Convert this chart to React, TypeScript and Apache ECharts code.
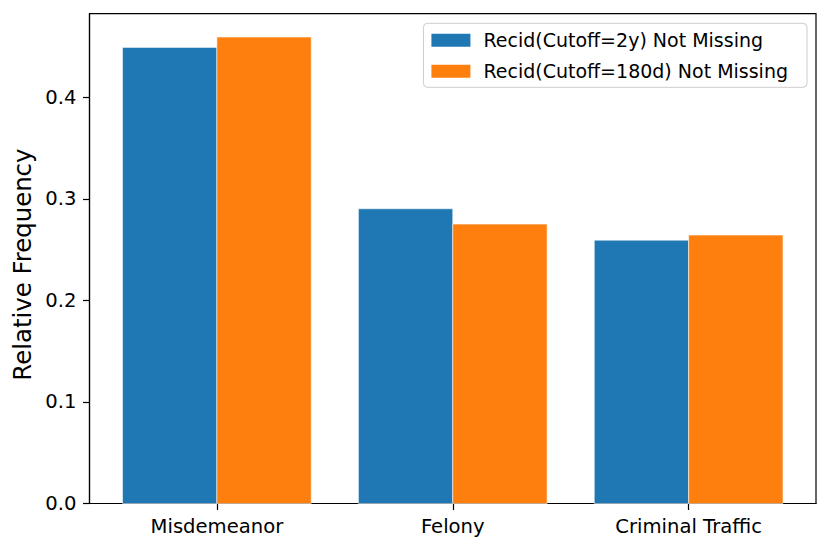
import React, { useEffect, useRef } from "react";
import * as echarts from "echarts";

const categories = ["Misdemeanor", "Felony", "Criminal Traffic"];
const series2y = [0.4493, 0.2903, 0.2594];
const series180d = [0.4595, 0.2752, 0.2644];
const seriesNames = ["Recid(Cutoff=2y) Not Missing", "Recid(Cutoff=180d) Not Missing"];
const yTicks = [0, 0.1, 0.2, 0.3, 0.4];
const colors = ["#1f77b4", "#ff7f0e"];

const FONT = "DejaVu Sans";
const BAR_W = 0.4;

function makeSeries(name: string, values: number[], offset: number, color: string) {
  return {
    name,
    type: "custom",
    itemStyle: { color },
    encode: { x: 0, y: 1 },
    data: values.map((v, i) => [i + offset, v]),
    renderItem: (params: any, api: any) => {
      const x = api.value(0);
      const v = api.value(1);
      const p0 = api.coord([x - BAR_W / 2, v]);
      const p1 = api.coord([x + BAR_W / 2, 0]);
      return {
        type: "rect",
        shape: { x: p0[0], y: p0[1], width: p1[0] - p0[0], height: p1[1] - p0[1] },
        style: { fill: color, stroke: "rgba(255,255,255,0.55)", lineWidth: 1 },
      };
    },
  };
}

export default function App() {
  const ref = useRef<HTMLDivElement>(null);
  useEffect(() => {
    if (!ref.current) return;
    const chart = echarts.init(ref.current, undefined, { renderer: "svg" });
    const n = categories.length;
    const dataMin = -0.4;
    const dataMax = n - 1 + 0.4;
    const margin = (dataMax - dataMin) * 0.05;
    const yMax = Math.max(...series2y, ...series180d) * 1.05;
    chart.setOption({
      animation: false,
      backgroundColor: "#ffffff",
      textStyle: { fontFamily: FONT },
      grid: {
        left: 89.5,
        right: 15,
        top: 13.7,
        bottom: 47.5,
        show: true,
        borderColor: "#000",
        borderWidth: 1.2,
        backgroundColor: "transparent",
      },
      legend: {
        orient: "vertical",
        right: 24,
        top: 23.3,
        align: "left",
        icon: "rect",
        itemWidth: 39,
        itemHeight: 13,
        itemGap: 11,
        padding: [7, 19, 6, 8],
        backgroundColor: "rgba(255,255,255,0.8)",
        borderColor: "#cccccc",
        borderWidth: 1,
        borderRadius: 4,
        textStyle: {
          fontFamily: FONT,
          fontSize: 19,
          color: "#000",
          lineHeight: 20,
          padding: [0, 0, 0, 8],
        },
        data: seriesNames,
      },
      xAxis: {
        type: "value",
        min: dataMin - margin,
        max: dataMax + margin,
        splitLine: { show: false },
        axisLine: { show: true, onZero: false, lineStyle: { color: "#000", width: 1.2 } },
        axisTick: {
          show: true,
          inside: false,
          length: 6.5,
          lineStyle: { color: "#000", width: 1.2 },
          customValues: categories.map((_, i) => i),
        },
        axisLabel: {
          customValues: categories.map((_, i) => i),
          formatter: (v: number) => categories[Math.round(v)] ?? "",
          fontFamily: FONT,
          fontSize: 19.6,
          color: "#000",
          margin: 13,
        },
      },
      yAxis: {
        type: "value",
        min: 0,
        max: yMax,
        name: "Relative Frequency",
        nameLocation: "middle",
        nameRotate: 90,
        nameGap: 55,
        nameTextStyle: {
          fontFamily: FONT,
          fontSize: 24.4,
          color: "#000",
          padding: [0, 12, 0, 0],
        },
        splitLine: { show: false },
        axisLine: { show: true, onZero: false, lineStyle: { color: "#000", width: 1.2 } },
        axisTick: {
          show: true,
          inside: false,
          length: 6.5,
          lineStyle: { color: "#000", width: 1.2 },
          customValues: yTicks,
        },
        axisLabel: {
          customValues: yTicks,
          formatter: (v: number) => v.toFixed(1),
          fontFamily: FONT,
          fontSize: 19.6,
          color: "#000",
          margin: 13,
        },
      },
      series: [
        makeSeries(seriesNames[0], series2y, -BAR_W / 2, colors[0]),
        makeSeries(seriesNames[1], series180d, BAR_W / 2, colors[1]),
      ],
    });
    return () => chart.dispose();
  }, []);
  return (
    <div
      ref={ref}
      style={{ position: "absolute", left: 0, top: 0, width: 831, height: 551 }}
    />
  );
}
